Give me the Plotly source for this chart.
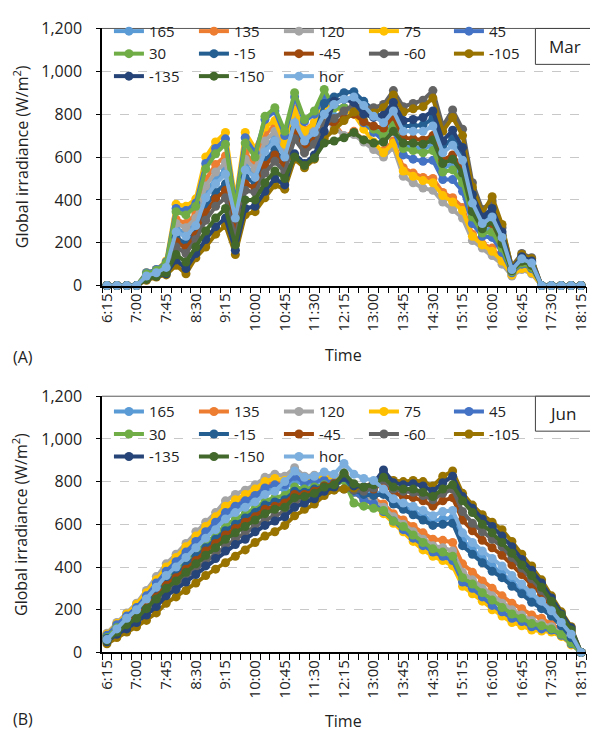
import plotly.graph_objects as go

times = ["6:15","6:30","6:45","7:00","7:15","7:30","7:45","8:00","8:15","8:30","8:45","9:00","9:15","9:30","9:45",
         "10:00","10:15","10:30","10:45","11:00","11:15","11:30","11:45","12:00","12:15","12:30","12:45","13:00",
         "13:15","13:30","13:45","14:00","14:15","14:30","14:45","15:00","15:15","15:30","15:45","16:00","16:15",
         "16:30","16:45","17:00","17:15","17:30","17:45","18:00","18:15"]
tick_labels = ["6:15","7:00","7:45","8:30","9:15","10:00","10:45","11:30","12:15","13:00","13:45","14:30",
               "15:15","16:00","16:45","17:30","18:15"]
series_names = ["165","135","120","75","45","30","-15","-45","-60","-105","-135","-150","hor"]
colors = ["#5B9BD5","#ED7D31","#A5A5A5","#FFC000","#4472C4","#70AD47","#255E91","#9E480E","#636363",
          "#997300","#264478","#43682B","#7CAFDD"]

# ---- March (A) ----
mar_165 = [0,0,0,0,45,60,90,265,245,295,430,500,540,300,560,520,645,690,610,775,690,725,805,790,800,805,760,730,
           710,765,655,645,640,655,550,565,500,330,255,265,185,65,110,90,0,0,0,0,0]
mar_135 = [0,0,0,0,50,65,100,310,290,335,495,565,605,335,620,565,705,750,655,825,725,760,800,760,695,720,680,650,
           630,675,550,525,505,500,435,410,365,240,195,175,125,50,85,65,0,0,0,0,0]
mar_120 = [0,0,0,0,50,65,95,290,270,315,465,530,575,320,590,545,675,720,635,800,705,745,790,740,700,705,670,635,
           600,645,510,480,455,445,390,355,315,210,175,140,100,45,75,55,0,0,0,0,0]
mar_75 = [0,0,0,0,60,75,115,380,370,405,600,670,715,400,715,640,740,770,660,820,720,760,840,830,815,800,730,670,
          620,665,535,510,490,480,420,390,350,230,190,160,115,50,80,60,0,0,0,0,0]
mar_45 = [0,0,0,0,60,75,110,360,350,385,570,640,685,380,690,620,775,815,700,880,765,800,875,835,830,820,760,715,
          675,725,610,590,580,585,495,495,440,290,230,225,155,60,100,80,0,0,0,0,0]
mar_30 = [0,0,0,0,55,70,105,345,330,370,545,615,660,365,665,600,790,830,720,900,775,815,915,830,830,825,770,730,
          700,750,640,630,620,630,530,540,480,320,245,250,175,65,105,85,0,0,0,0,0]
mar_m15 = [0,0,0,0,40,55,80,225,195,255,370,435,475,260,505,480,585,635,570,730,655,690,850,880,900,905,860,820,
           775,835,745,745,750,780,645,690,615,405,305,340,235,75,130,110,0,0,0,0,0]
mar_m45 = [0,0,0,0,40,55,75,205,175,235,340,405,445,240,475,455,560,610,555,710,635,675,755,760,780,800,765,745,
           735,790,690,685,680,700,585,610,545,360,275,290,205,70,115,95,0,0,0,0,0]
mar_m60 = [0,0,0,0,35,50,70,180,150,215,305,370,410,220,445,435,525,580,530,685,620,660,755,780,815,845,830,830,
           845,910,835,850,865,910,745,820,730,480,355,395,270,90,150,130,0,0,0,0,0]
mar_m105 = [0,0,0,0,25,40,50,95,55,130,180,240,280,145,330,345,410,470,450,590,550,590,685,725,770,810,800,805,
            830,890,810,825,835,875,720,785,700,460,340,415,285,85,145,125,0,0,0,0,0]
mar_m135 = [0,0,0,0,30,45,55,120,80,150,215,275,315,165,360,370,440,500,470,615,570,610,720,860,870,855,800,785,
            795,855,770,775,785,815,675,725,645,425,320,360,250,80,135,115,0,0,0,0,0]
mar_m150 = [0,0,0,0,30,45,60,145,110,180,255,315,360,190,400,400,480,535,500,600,560,595,665,675,690,715,680,665,
            670,720,665,665,660,680,570,590,525,345,265,300,195,70,115,95,0,0,0,0,0]
mar_hor = [0,0,0,0,45,60,85,250,230,280,410,475,520,315,540,505,625,675,600,760,675,715,800,845,870,880,840,790,
           760,815,720,720,720,745,620,655,585,385,290,320,225,75,125,105,0,0,0,0,0]

# ---- June (B) ----
jun_165 = [75,125,160,200,255,310,365,410,455,500,545,585,635,665,690,715,750,765,765,805,785,795,805,805,840,780,755,745,
           750,705,685,665,640,615,625,630,525,485,440,405,370,330,295,255,220,180,135,80,0]
jun_135 = [80,130,175,220,275,335,390,435,485,535,580,625,675,705,730,755,785,805,795,840,805,815,820,805,835,770,735,720,
           695,650,620,590,560,530,525,515,415,375,335,300,265,230,205,175,160,135,105,55,0]
jun_120 = [90,140,185,230,290,355,415,460,510,565,610,655,710,740,760,785,820,835,825,865,825,830,830,815,840,770,735,710,
           680,635,600,565,530,500,490,475,375,340,300,265,230,200,175,150,135,120,90,50,0]
jun_75 = [85,135,180,225,280,340,400,445,495,545,590,635,685,715,740,765,800,815,805,845,815,820,820,800,825,750,715,690,
          650,605,565,520,480,450,430,405,310,275,240,200,170,140,125,105,100,95,75,35,0]
jun_45 = [80,130,170,210,265,325,380,425,470,520,565,610,655,685,710,735,770,785,785,825,795,805,805,795,820,750,715,695,
          660,615,575,535,500,470,450,430,330,300,260,220,190,160,145,120,110,105,80,40,0]
jun_30 = [70,115,150,185,235,285,340,380,425,470,510,550,595,625,650,675,710,725,735,775,765,775,785,780,805,700,685,675,
          665,615,590,550,515,485,470,450,350,320,280,245,210,180,160,135,125,110,85,45,0]
jun_m15 = [65,105,140,175,225,275,325,365,405,450,490,530,570,600,630,655,690,705,715,755,750,765,780,785,820,760,740,735,
           740,695,670,645,620,595,600,605,500,460,420,380,350,310,275,235,205,170,125,70,0]
jun_m45 = [60,100,135,170,215,260,315,350,390,430,475,510,550,580,610,635,670,685,700,740,740,755,780,790,830,780,765,765,
           795,750,730,725,710,685,710,725,620,570,525,490,455,410,365,315,270,215,155,95,0]
jun_m60 = [55,90,120,150,190,235,285,315,355,390,430,465,500,530,560,590,620,640,660,705,715,735,760,775,765,760,755,770,
           810,765,755,750,735,715,745,765,660,605,565,530,495,445,395,345,290,230,165,105,0]
jun_m105 = [40,70,95,120,150,185,230,260,290,325,360,390,420,450,480,515,545,565,595,640,670,695,735,760,765,770,775,795,
            840,805,800,805,800,780,825,850,745,690,645,610,575,520,460,405,340,265,190,120,0]
jun_m135 = [50,85,110,140,175,215,265,295,330,365,405,440,475,505,530,565,595,615,635,680,700,720,755,775,820,780,775,790,
            855,795,785,790,780,755,795,825,730,675,625,590,545,495,435,385,325,255,180,115,0]
jun_m150 = [55,95,130,160,205,250,300,335,375,415,455,490,530,560,590,620,650,670,680,725,730,745,775,785,840,790,775,785,
            820,775,765,765,750,730,765,785,710,655,600,560,515,465,410,360,305,240,175,105,0]
jun_hor = [60,110,160,200,250,305,360,400,445,490,535,575,625,655,680,705,740,755,800,850,820,825,845,835,885,835,815,805,
           765,720,700,685,665,640,660,665,560,515,475,440,405,360,320,280,240,195,140,85,0]

mar_data = [mar_165, mar_135, mar_120, mar_75, mar_45, mar_30, mar_m15, mar_m45, mar_m60, mar_m105, mar_m135, mar_m150, mar_hor]
jun_data = [jun_165, jun_135, jun_120, jun_75, jun_45, jun_30, jun_m15, jun_m45, jun_m60, jun_m105, jun_m135, jun_m150, jun_hor]

W, H = 590, 742
ML = 102
PW = W - ML
FONT = "Open Sans"

def px(xp):
    return (xp - ML) / PW

def py(yp):
    return 1 - yp / H

fig = go.Figure()
for data, xa, ya, lg in [(mar_data, "x", "y", "legend"), (jun_data, "x2", "y2", "legend2")]:
    for name, col, vals in zip(series_names, colors, data):
        fig.add_trace(go.Scatter(
            x=times, y=vals, name=name, mode="lines+markers",
            line=dict(color=col, width=4),
            marker=dict(color=col, size=9, symbol="circle"),
            xaxis=xa, yaxis=ya, legend=lg, cliponaxis=False,
        ))

ticktext = [t if t in tick_labels else "" for t in times]
xcommon = dict(type="category", categoryorder="array", categoryarray=times,
               tickmode="array", tickvals=times, ticktext=ticktext,
               tickson="boundaries", ticks="outside", ticklen=6, tickcolor="black",
               tickangle=-90, showline=True, linecolor="black", linewidth=1.5,
               showgrid=False, range=[-0.5, 48.5], domain=[0, 1],
               tickfont=dict(family=FONT, size=15, color="#222"))
ycommon = dict(range=[0, 1200], dtick=200, tickformat=",", showline=True, linecolor="black", linewidth=1.5,
               ticks="outside", ticklen=4, tickcolor="black", ticklabelstandoff=11,
               showgrid=True, gridcolor="#C8C8C8", griddash="dash", gridwidth=1, zeroline=False,
               tickfont=dict(family=FONT, size=16, color="#222"))

legcommon = dict(orientation="h", entrywidth=40, entrywidthmode="pixels", bgcolor="rgba(0,0,0,0)",
                 font=dict(family=FONT, size=15, color="#222"), xanchor="left", yanchor="top",
                 itemclick=False, tracegroupgap=0)

fig.update_layout(
    width=W, height=H, margin=dict(l=ML, r=0, t=0, b=0),
    paper_bgcolor="white", plot_bgcolor="white",
    xaxis=dict(xcommon, anchor="y"),
    yaxis=dict(ycommon, domain=[py(283), py(18)], anchor="x"),
    xaxis2=dict(xcommon, anchor="y2"),
    yaxis2=dict(ycommon, domain=[py(661), py(397)], anchor="x2"),
    legend=dict(legcommon, x=px(109), y=py(4)),
    legend2=dict(legcommon, x=px(109), y=py(396)),
    font=dict(family=FONT, color="#222"),
)

# plot-area top border and month boxes
for top, bot, mbot, label in [(18, 283, 55, "Mar"), (397, 661, 433, "Jun")]:
    fig.add_shape(type="line", xref="paper", yref="paper", x0=0, x1=1.02, y0=py(top), y1=py(top),
                  line=dict(color="#595959", width=1), layer="below")
    fig.add_shape(type="rect", xref="paper", yref="paper", x0=px(539), x1=px(600), y0=py(mbot), y1=py(top),
                  line=dict(color="#404040", width=1), fillcolor="white", layer="above")
    fig.add_annotation(text=label, xref="paper", yref="paper", x=px(551), y=py((top + mbot) / 2),
                       xanchor="left", yanchor="middle", showarrow=False,
                       font=dict(family=FONT, size=17, color="#222"))

for yc, tt, ty, pl in [(150, 355, 357, "(A)"), (529, 732, 730, "(B)")]:
    fig.add_annotation(text="Global irradiance (W/m<sup>2</sup>)", xref="paper", yref="paper",
                       x=px(20), y=py(yc), textangle=-90, showarrow=False, xanchor="center", yanchor="middle",
                       font=dict(family=FONT, size=16, color="#222"))
    fig.add_annotation(text="Time", xref="paper", yref="paper", x=px(345), y=py(tt),
                       showarrow=False, xanchor="center", yanchor="middle",
                       font=dict(family=FONT, size=16, color="#222"))
    fig.add_annotation(text=pl, xref="paper", yref="paper", x=px(10), y=py(ty),
                       showarrow=False, xanchor="left", yanchor="middle",
                       font=dict(family=FONT, size=16, color="#222"))

fig.write_html("out.html")
